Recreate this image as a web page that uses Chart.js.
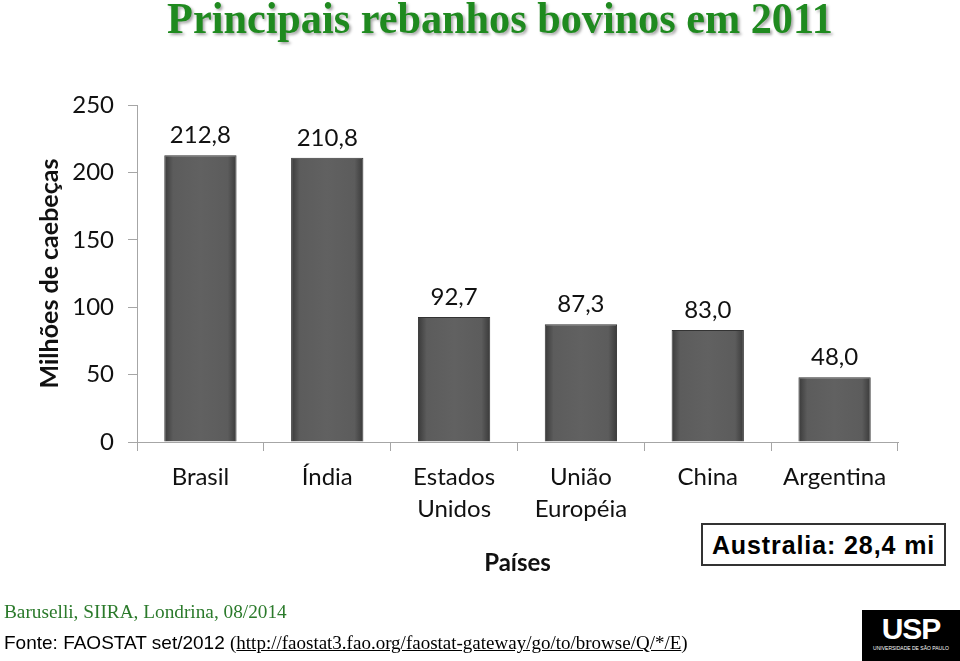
<!DOCTYPE html>
<html lang="pt">
<head>
<meta charset="UTF-8">
<title>Principais rebanhos bovinos em 2011</title>
<script src="https://cdn.jsdelivr.net/npm/chart.js"></script>
<style>
  html, body { margin: 0; padding: 0; background: #fff; }
  #page { position: relative; width: 960px; height: 661px; overflow: hidden; }
  #chart { position: absolute; left: 0; top: 0; }
  .title { position: absolute; left: 0; width: 1000px; top: -7px; text-align: center;
           font-family: 'Liberation Serif', serif; font-weight: bold; font-size: 44px;
           color: #1f8a1f; text-shadow: 2px 2px 3px rgba(0,0,0,0.35);
           transform: scaleX(0.96); transform-origin: 500px 0; }
  .aus { position: absolute; left: 701px; top: 523px; width: 241px; height: 39px;
         border: 2px solid #333; background: #fff; text-align: center; line-height: 40px;
         font-family: 'Liberation Sans', Arial, sans-serif; font-weight: bold; font-size: 25px; letter-spacing: 0.9px; }
  .cite { position: absolute; left: 4px; top: 601px; font-family: 'Liberation Serif', serif;
          font-size: 19.3px; color: #2b7a2b; }
  .fonte { position: absolute; left: 4px; top: 632px; font-family: 'Liberation Sans', Arial, sans-serif;
           font-size: 19px; color: #000; white-space: nowrap; }
  .fonte .url { font-family: 'Liberation Serif', serif; font-size: 19px; }
  .fonte .url u { color: #000; }
  .usp { position: absolute; left: 862px; top: 610px; width: 98px; height: 51px; background: #000;
         color: #fff; text-align: center; font-family: 'Liberation Sans', sans-serif; }
  .usp b { display: block; font-size: 30px; line-height: 32px; letter-spacing: -1px; margin-top: 3px; }
  .usp small { display: block; font-size: 5px; }
</style>
</head>
<body>
<div id="page">
  <canvas id="chart" width="960" height="661"></canvas>
  <div class="title">Principais rebanhos bovinos em 2011</div>
  <div class="aus">Australia: 28,4 mi</div>
  <div class="cite">Baruselli, SIIRA, Londrina, 08/2014</div>
  <div class="fonte">Fonte: FAOSTAT set/2012 <span class="url">(<u>http://faostat3.fao.org/faostat-gateway/go/to/browse/Q/*/E</u>)</span></div>
  <div class="usp"><b>USP</b><small>UNIVERSIDADE DE SÃO PAULO</small></div>
</div>
<script>
// dados (milhões de cabeças)
const paises = [['Brasil'], ['Índia'], ['Estados', 'Unidos'], ['União', 'Européia'], ['China'], ['Argentina']];
const rebanho = [212.8, 210.8, 92.7, 87.3, 83.0, 48.0];
const yTicks = [0, 50, 100, 150, 200, 250];

const FONT = "Lato, 'Open Sans', sans-serif";

// rótulos acima das barras
const valueLabels = {
  id: 'valueLabels',
  afterDatasetsDraw(chart) {
    const ctx = chart.ctx;
    const meta = chart.getDatasetMeta(0);
    ctx.save();
    ctx.font = '24px ' + FONT;
    ctx.fillStyle = '#111';
    ctx.textAlign = 'center';
    ctx.textBaseline = 'middle';
    meta.data.forEach((bar, i) => {
      ctx.fillText(rebanho[i].toFixed(1).replace('.', ','), bar.x, bar.y - 20);
    });
    ctx.restore();
  }
};

function barFill(c) {
  const chart = c.chart;
  const xs = chart.scales.x;
  if (!xs || c.dataIndex === undefined) return '#5a5a5a';
  const x = xs.getPixelForValue(c.dataIndex);
  if (!isFinite(x)) return '#5a5a5a';
  const g = chart.ctx.createLinearGradient(x - 36, 0, x + 36, 0);
  g.addColorStop(0, '#3a3a3a');
  g.addColorStop(0.12, '#5c5c5c');
  g.addColorStop(0.5, '#616161');
  g.addColorStop(0.88, '#5c5c5c');
  g.addColorStop(1, '#3a3a3a');
  return g;
}

new Chart(document.getElementById('chart'), {
  type: 'bar',
  data: {
    labels: paises,
    datasets: [{
      data: rebanho,
      backgroundColor: barFill,
      borderColor: '#333',
      borderWidth: 1,
      barPercentage: 0.57,
      categoryPercentage: 1
    }]
  },
  options: {
    responsive: false,
    animation: false,
    layout: { padding: { top: 105, right: 62, bottom: 79, left: 0 } },
    plugins: { legend: { display: false }, tooltip: { enabled: false } },
    scales: {
      y: {
        min: 0, max: 250,
        afterBuildTicks: s => { s.ticks = yTicks.map(v => ({ value: v })); },
        afterFit: s => { s.width = 137; },
        border: { color: '#a6a6a6' },
        grid: { drawOnChartArea: false, tickLength: 9, color: '#a6a6a6' },
        ticks: { font: { family: FONT, size: 24 }, color: '#111', padding: 14 },
        title: { display: true, text: 'Milhões de caebeças', color: '#111',
                 font: { family: FONT, size: 25, weight: 'bold' }, padding: { top: 35 } }
      },
      x: {
        afterFit: s => { s.height = 140; },
        border: { color: '#a6a6a6' },
        grid: { drawOnChartArea: false, tickLength: 9, color: '#a6a6a6' },
        ticks: { font: { family: FONT, size: 24, lineHeight: 1.33 }, color: '#111', padding: 10, maxRotation: 0 },
        title: { display: true, text: 'Países', color: '#111',
                 font: { family: FONT, size: 24, weight: 'bold' }, padding: { bottom: 4 } }
      }
    }
  },
  plugins: [valueLabels]
});
</script>
</body>
</html>
